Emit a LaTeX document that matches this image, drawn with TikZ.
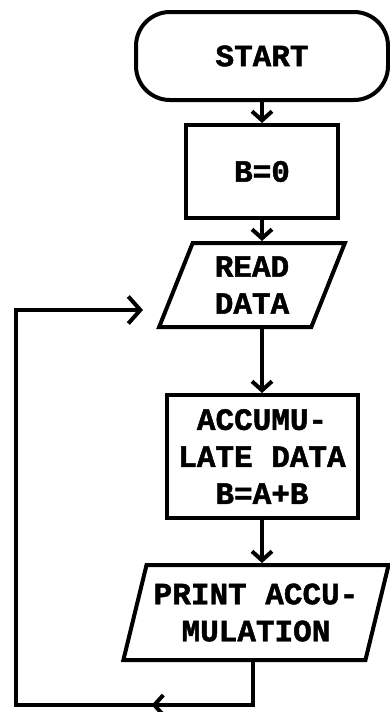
\documentclass[tikz,border=0pt]{standalone}
\usepackage{fontspec}
\newfontfamily\chartfont{Liberation Mono}[BoldFeatures={FakeBold=1.5}]
\usetikzlibrary{arrows.meta, positioning, shapes.geometric, decorations.markings}

\begin{document}
\begin{tikzpicture}[
    x=1pt, y=-1pt,
    font=\chartfont\bfseries\fontsize{31}{37}\selectfont,
    line width=4pt,
    terminal/.style={draw, rounded corners=34pt, align=center, minimum width=252pt, minimum height=88pt},
    procbox/.style={draw, align=center, inner sep=2pt},
    iobox/.style={draw, trapezium, trapezium left angle=70, trapezium right angle=110, trapezium stretches=true, align=center, inner sep=1pt},
    arrow/.style={-{Straight Barb[length=9pt,width=20pt]}},
    looparrow/.style={-{Straight Barb[length=12pt,width=27pt]}},
    midarrow/.style={postaction={decorate}, decoration={markings, mark=at position 0.18 with {\arrow{Straight Barb[length=9pt,width=20pt]}}}}
]
  \useasboundingbox (0,0) rectangle (389,712);
  \node[terminal] (start) at (262,56) {START};
  \node[procbox, minimum width=152pt, minimum height=93pt, below=21pt of start] (bzero) {B=0};
  \node[iobox, minimum width=186pt, minimum height=84pt, below=21pt of bzero, xshift=-10pt] (read) {READ\\DATA};
  \node[procbox, minimum width=191pt, minimum height=123pt, below=64pt of read, xshift=10pt] (accum) {ACCUMU-\\LATE DATA\\B=A+B};
  \node[iobox, minimum width=266pt, minimum height=95pt, below=43pt of accum, xshift=-6pt] (print) {PRINT ACCU-\\MULATION};

  \draw[arrow] (start) -- (bzero);
  \draw[arrow] (bzero.south) -- (bzero.south |- read.north);
  \draw[arrow] (read.south -| accum.north) -- (accum.north);
  \draw[arrow] (accum) -- (accum.south |- print.north);

  \coordinate (loopbr) at (253,705);
  \coordinate (loopbl) at (16,705);
  \coordinate (loopend) at (143,310);
  \draw[looparrow, midarrow] (print.south -| loopbr) -- (loopbr) -- (loopbl) |- (loopend);
\end{tikzpicture}
\end{document}
